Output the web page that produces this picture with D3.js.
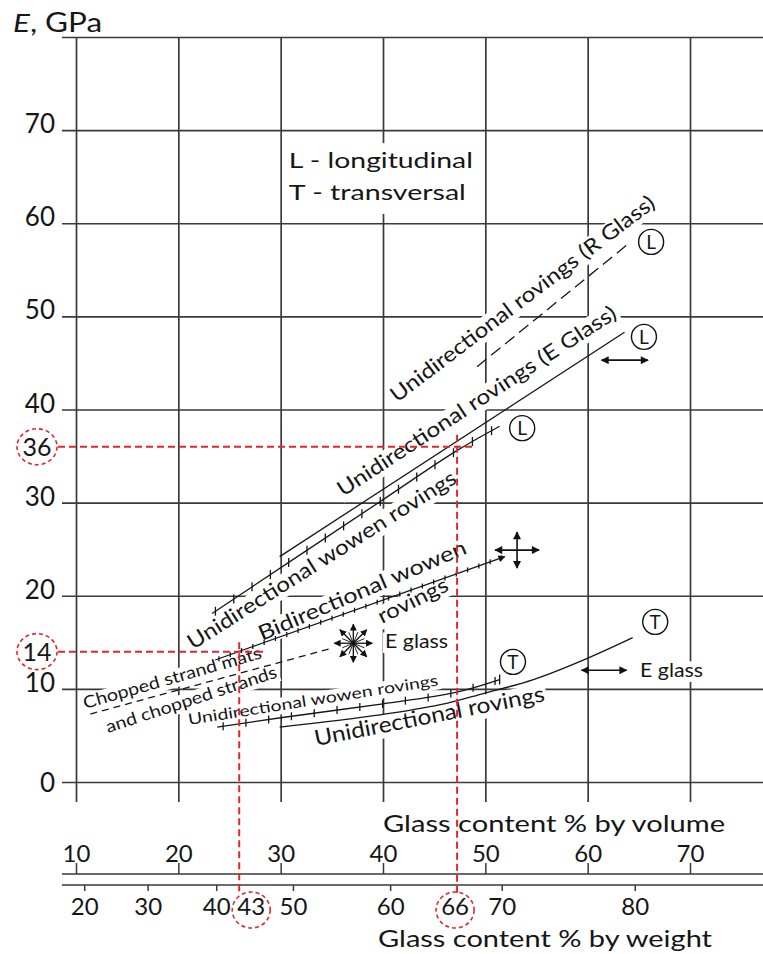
<!DOCTYPE html>
<html><head><meta charset="utf-8">
<script src="https://cdn.jsdelivr.net/npm/d3@7"></script>
<style>
body{margin:0;background:#fff;}
svg{display:block;font-family:Lato,"Open Sans",sans-serif;}
</style></head><body>
<svg id="chart" width="763" height="954"></svg>
<script>
// ---------- data (volume %, E in GPa) ----------
const eTicks = [0,10,20,30,40,50,60,70,80];
const eTickLabels = ["0","10","20","30","40","50","60","70",""];
const volumeTicks = [10,20,30,40,50,60,70];
const weightTicks = [20,30,40,50,60,70,80];
const weightTickAtVolume = [10.8,17.0,23.7,31.2,40.7,51.6,64.6];

const rGlassL = [[49.2,44.6],[64.1,57.9]];
const eGlassL = [[29.9,24.2],[63.6,48.3]];
const wovenL = [[23.3,18.1],[39.7,30.1],[47.1,35.5],[51.4,38.2]];
const bidirWoven = [[23.6,13.1],[51.9,24.2]];
const choppedStrand = [[11.4,7.3],[35.1,14.4]];
const wovenT = [[23.8,5.9],[30,6.9],[40,8.4],[47,9.6],[51.4,11.0]];
const rovingsT = [[29.9,5.9],[39.7,7.2],[45.6,8.3],[49.8,9.5],[54.7,11.0],[59.8,13.2],[64.4,15.5]];

const markerLetters = ["L","L","L","T","T"];
const markerPoints = [[66.2,58.0],[65.5,47.8],[53.6,38.0],[52.7,12.9],[66.6,17.2]];

const readE = [36,14];
const readWeight = [66,43];
const readE_label = ["36","14"];
const readW_label = ["66","43"];

// ---------- layout ----------
const W = 763, H = 954;
const svg = d3.select("#chart");
const x = d3.scaleLinear().domain([10,70]).range([76,690]);
const y = d3.scaleLinear().domain([0,80]).range([782,37]);
const wScale = d3.scaleLinear().domain(weightTicks).range(weightTickAtVolume.map(v=>x(v)));
const INK = "#161616", GRID = "#3a3a3a", RED = "#e3262b";

const defs = svg.append("defs");
defs.append("marker").attr("id","ah").attr("viewBox","0 0 10 10").attr("refX",9).attr("refY",5)
  .attr("markerWidth",9).attr("markerHeight",8).attr("markerUnits","userSpaceOnUse")
  .attr("orient","auto-start-reverse")
  .append("path").attr("d","M0,0L10,5L0,10z").attr("fill","#111");
defs.append("marker").attr("id","ahs").attr("viewBox","0 0 10 10").attr("refX",9).attr("refY",5)
  .attr("markerWidth",7).attr("markerHeight",7).attr("markerUnits","userSpaceOnUse")
  .attr("orient","auto-start-reverse")
  .append("path").attr("d","M0,0L10,5L0,10z").attr("fill","#111");

// ---------- grid ----------
const gridG = svg.append("g");
const yAxis = d3.axisLeft(y).tickValues(eTicks).tickSize(-(W-62)).tickPadding(7)
  .tickFormat((d,i)=>eTickLabels[i]);
const yg = gridG.append("g").attr("transform","translate(62,0)").call(yAxis);
yg.select(".domain").remove();
yg.selectAll(".tick line").attr("stroke",GRID).attr("stroke-width",1.7);
yg.selectAll(".tick text").attr("fill",INK).attr("font-size",26)
  .attr("font-family","Lato,sans-serif").attr("dy",d=>d===0?"0.36em":"0.1em");

const xGrid = d3.axisBottom(x).tickValues(volumeTicks).tickSize(-(802-37)).tickFormat("");
const xg = gridG.append("g").attr("transform","translate(0,802)").call(xGrid);
xg.select(".domain").remove();
xg.selectAll(".tick line").attr("stroke",GRID).attr("stroke-width",1.7);

// ---------- bottom axes ----------
const volAxis = d3.axisTop(x).tickValues(volumeTicks).tickSize(11).tickPadding(1);
const vg = svg.append("g").attr("transform","translate(0,874)").call(volAxis);
vg.select(".domain").remove();
vg.selectAll(".tick line").attr("stroke",GRID).attr("stroke-width",1.5);
vg.selectAll(".tick text").attr("fill",INK).attr("font-size",24).attr("font-family","Lato,sans-serif");
svg.append("line").attr("x1",62).attr("x2",W).attr("y1",874).attr("y2",874).attr("stroke",GRID).attr("stroke-width",1.7);

const wAxis = d3.axisBottom(wScale).tickValues(weightTicks).tickSize(6).tickPadding(7);
const wg = svg.append("g").attr("transform","translate(0,885)").call(wAxis);
wg.select(".domain").remove();
wg.selectAll(".tick line").attr("stroke",GRID).attr("stroke-width",1.5);
wg.selectAll(".tick text").attr("fill",INK).attr("font-size",24).attr("font-family","Lato,sans-serif");
svg.append("line").attr("x1",62).attr("x2",W).attr("y1",885).attr("y2",885).attr("stroke",GRID).attr("stroke-width",1.7);

svg.append("text").attr("x",383).attr("y",832).attr("font-size",24).attr("fill",INK)
  .attr("textLength",342).attr("lengthAdjust","spacingAndGlyphs").text("Glass content % by volume");
svg.append("text").attr("x",378).attr("y",947).attr("font-size",24).attr("fill",INK)
  .attr("textLength",334).attr("lengthAdjust","spacingAndGlyphs").text("Glass content % by weight");
const et = svg.append("text").attr("x",13).attr("y",32).attr("font-size",26).attr("fill",INK)
  .attr("textLength",89).attr("lengthAdjust","spacingAndGlyphs");
et.append("tspan").attr("font-style","italic").text("E");
et.append("tspan").text(", GPa");

// ---------- labels (white text boxes) ----------
const labelLayer = svg.append("g");
function label(o){
  const g = labelLayer.append("g")
    .attr("transform",`translate(${x(o.at[0])},${y(o.at[1])}) rotate(${o.angle||0})`);
  if(o.bg!==false){
    g.append("rect").attr("x",-2).attr("y",-o.size*0.82).attr("width",o.len+4)
      .attr("height",o.size*1.08).attr("fill","#fff");
  }
  g.append("text").attr("font-size",o.size).attr("fill",o.fill||INK)
    .attr("textLength",o.len).attr("lengthAdjust","spacingAndGlyphs").text(o.text);
}
// legend box
labelLayer.append("rect").attr("x",x(30.6)).attr("y",y(68.6)).attr("width",x(49.8)-x(30.6))
  .attr("height",y(61.0)-y(68.6)).attr("fill","#fff");
label({text:"L - longitudinal",at:[30.8,65.9],size:22,len:184,bg:false});
label({text:"T - transversal",at:[30.8,62.5],size:22,len:177,bg:false});

label({text:"Unidirectional rovings (R Glass)",at:[41.37,40.7],angle:-37.2,size:21,len:326});
label({text:"Unidirectional rovings (E Glass)",at:[36.09,30.6],angle:-33.2,size:21,len:329});
label({text:"Unidirectional wowen rovings",at:[21.43,14.17],angle:-32.4,size:21,len:314});
label({text:"Bidirectional wowen",at:[28.18,15.14],angle:-23.1,size:21,len:224});
label({text:"rovings",at:[39.9,16.97],angle:-26.6,size:21,len:76});
label({text:"Chopped strand mats",at:[10.88,7.84],angle:-16.0,size:17,len:185});
label({text:"and chopped strands",at:[13.13,5.26],angle:-18.2,size:17,len:179});
label({text:"Unidirectional wowen rovings",at:[21.04,6.12],angle:-9.0,size:15.5,len:253});
label({text:"Unidirectional rovings",at:[33.45,3.87],angle:-11.1,size:22,len:234});
label({text:"E glass",at:[40.2,14.39],size:19,len:63});
label({text:"E glass",at:[65.12,11.28],size:19,len:63});

// ---------- curves ----------
const curveLayer = svg.append("g").attr("fill","none").attr("stroke",INK).attr("stroke-width",1.3);
const line = d3.line().x(d=>x(d[0])).y(d=>y(d[1])).curve(d3.curveCatmullRom.alpha(0.5));

function tickAlong(path, step, start, len, endBar){
  const node = path.node(), L = node.getTotalLength();
  for(let s=start; s<L-2; s+=step){
    const p = node.getPointAtLength(s);
    curveLayer.append("line").attr("x1",p.x).attr("x2",p.x).attr("y1",p.y-len/2).attr("y2",p.y+len/2);
  }
  if(endBar){
    const p = node.getPointAtLength(L);
    curveLayer.append("line").attr("x1",p.x).attr("x2",p.x).attr("y1",p.y-endBar/2).attr("y2",p.y+endBar/2);
  }
}

curveLayer.append("path").attr("d",line(rGlassL)).attr("stroke-dasharray","12,6");
curveLayer.append("path").attr("d",line(eGlassL));
const pw = curveLayer.append("path").attr("d",line(wovenL));
tickAlong(pw, 22, 4, 9);
const pb = curveLayer.append("path").attr("d",line(bidirWoven)).attr("marker-end","url(#ahs)");
tickAlong(pb, 12, 4, 5);
curveLayer.append("path").attr("d",line(choppedStrand)).attr("stroke-dasharray","7,5");
const pwt = curveLayer.append("path").attr("d",line(wovenT));
tickAlong(pwt, 23, 6, 8, 10);
curveLayer.append("path").attr("d",line(rovingsT));

// double arrows
const sym = svg.append("g").attr("stroke","#111").attr("stroke-width",1.6).attr("fill","none");
function dbl(a,b){
  sym.append("line").attr("x1",x(a[0])).attr("y1",y(a[1])).attr("x2",x(b[0])).attr("y2",y(b[1]))
    .attr("marker-start","url(#ah)").attr("marker-end","url(#ah)");
}
dbl([61.35,45.3],[65.9,45.3]);
dbl([59.4,12.0],[63.8,12.0]);
// four-way arrow
const c4 = [53.1,24.9];
sym.append("line").attr("x1",x(c4[0])-22).attr("x2",x(c4[0])+22).attr("y1",y(c4[1])).attr("y2",y(c4[1]))
  .attr("marker-start","url(#ah)").attr("marker-end","url(#ah)");
sym.append("line").attr("x1",x(c4[0])).attr("x2",x(c4[0])).attr("y1",y(c4[1])-18).attr("y2",y(c4[1])+18)
  .attr("marker-start","url(#ah)").attr("marker-end","url(#ah)");
// star of arrows
const cs = [37.1,14.9];
const cx0 = x(cs[0]), cy0 = y(cs[1]);
for(let k=0;k<8;k++){
  const a = k*Math.PI/4;
  sym.append("line").attr("x1",cx0).attr("y1",cy0).attr("x2",cx0+19*Math.cos(a)).attr("y2",cy0+19*Math.sin(a))
    .attr("stroke-width",1.3).attr("marker-end","url(#ahs)");
  const b = a+Math.PI/8;
  sym.append("line").attr("x1",cx0).attr("y1",cy0).attr("x2",cx0+12*Math.cos(b)).attr("y2",cy0+12*Math.sin(b))
    .attr("stroke-width",0.9);
}

// circled L / T markers
const mk = svg.append("g").selectAll("g").data(markerPoints).join("g")
  .attr("transform",d=>`translate(${x(d[0])},${y(d[1])})`);
mk.append("circle").attr("r",12.5).attr("fill","#fff").attr("stroke","#111").attr("stroke-width",1.4);
mk.append("text").attr("text-anchor","middle").attr("dy","0.36em").attr("font-size",19).attr("fill",INK)
  .text((d,i)=>markerLetters[i]);

// ---------- red reading guides ----------
const red = svg.append("g").attr("stroke",RED).attr("stroke-width",2).attr("fill","none").attr("stroke-dasharray","7,4");
const hEnd = [48.9,28.3];      // volume where the horizontal guide stops
const vTop = [37.3,15.0];      // E where the vertical guide starts
const wShift = [-2,12];
readE.forEach((e,i)=>{
  red.append("line").attr("x1",58).attr("x2",x(hEnd[i])).attr("y1",y(e)).attr("y2",y(e));
  red.append("line").attr("x1",wScale(readWeight[i])).attr("x2",wScale(readWeight[i]))
    .attr("y1",y(vTop[i])).attr("y2",893);
  red.append("ellipse").attr("cx",37).attr("cy",y(e)).attr("rx",20).attr("ry",18).attr("stroke-width",1.6).attr("stroke-dasharray","4,3");
  svg.append("text").attr("x",37).attr("y",y(e)).attr("dy","0.36em").attr("text-anchor","middle")
    .attr("font-size",25).attr("fill",INK).text(readE_label[i]);
  const wx = wScale(readWeight[i])+wShift[i];
  red.append("ellipse").attr("cx",wx).attr("cy",910).attr("rx",19).attr("ry",18).attr("stroke-width",1.6).attr("stroke-dasharray","4,3");
  svg.append("text").attr("x",wx).attr("y",915).attr("text-anchor","middle")
    .attr("font-size",24).attr("fill",INK).text(readW_label[i]);
});
</script></body></html>
